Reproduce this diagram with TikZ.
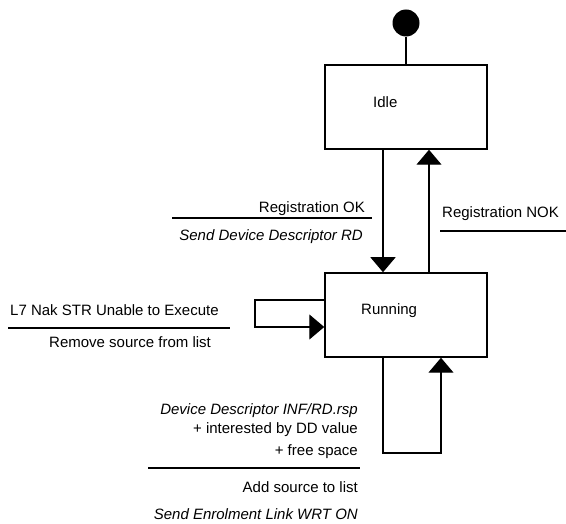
\documentclass[tikz,border=0pt]{standalone}
\usepackage{fontspec}
\setmainfont{Liberation Sans}
\usetikzlibrary{arrows.meta}
\begin{document}
\begin{tikzpicture}[x=1pt,y=-1pt,
  state/.style={draw,line width=1.5pt,minimum width=162pt,minimum height=84pt,inner sep=0pt},
  lbl/.style={font=\fontsize{15}{18}\selectfont,inner sep=0pt},
  act/.style={font=\fontsize{15}{18}\selectfont\itshape,inner sep=0pt},
  wire/.style={line width=1.4pt},
  trans/.style={wire,-{Triangle[length=15pt,width=25pt]}},
  rule/.style={line width=1.4pt}]
\useasboundingbox (0,0) rectangle (566,524);

% states
\node[state] (idle) at (406,107) {};
\node[state] (running) at (406,315) {};
\node[lbl,anchor=base west] (idlename) at (373,108) {Idle};
\node[lbl,anchor=base west] (runname) at (361,315) {Running};

% initial pseudo-state
\node[circle,fill,minimum size=27pt,inner sep=0pt] (start) at (406,23) {};
\draw[wire] (start) -- (idle);

% routing points
\coordinate (dnx) at (383,0);
\coordinate (upx) at (429,0);
\coordinate (slA) at (255,300);
\coordinate (slB) at (255,327);
\coordinate (blA) at (383,453);
\coordinate (blB) at (441,453);

% transitions
\draw[trans] (idle.south -| dnx) -- (running.north -| dnx);
\draw[trans] (running.north -| upx) -- (idle.south -| upx);
\draw[trans] (running.west |- slA) -- (slA) -- (slB) -- (running.west |- slB);
\draw[trans] (running.south -| blA) -- (blA) -- (blB) -- (running.south -| blB);

% Idle -> Running
\node[lbl,anchor=base east] (regok) at (365,213) {Registration OK};
\draw[rule] (172,218) -- (372,218);
\node[act,anchor=base east] (sendrd) at (363,241) {Send Device Descriptor RD};

% Running -> Idle
\node[lbl,anchor=base west] (regnok) at (442,218) {Registration NOK};
\draw[rule] (440,231) -- (566,231);

% self transition, left
\node[lbl,anchor=base west] (nak) at (10,316) {L7 Nak STR Unable to Execute};
\draw[rule] (8,328) -- (230,328);
\node[lbl,anchor=base west] (remove) at (49,348) {Remove source from list};

% self transition, below
\node[act,anchor=base east] (ddrsp) at (358,414) {Device Descriptor INF/RD.rsp};
\node[lbl,anchor=base east] (ddval) at (358,434) {+ interested by DD value};
\node[lbl,anchor=base east] (space) at (358,455) {+ free space};
\draw[rule] (148,468) -- (360,468);
\node[lbl,anchor=base east] (addsrc) at (358,493) {Add source to list};
\node[act,anchor=base east] (enrol) at (358,519) {Send Enrolment Link WRT ON};
\end{tikzpicture}
\end{document}
